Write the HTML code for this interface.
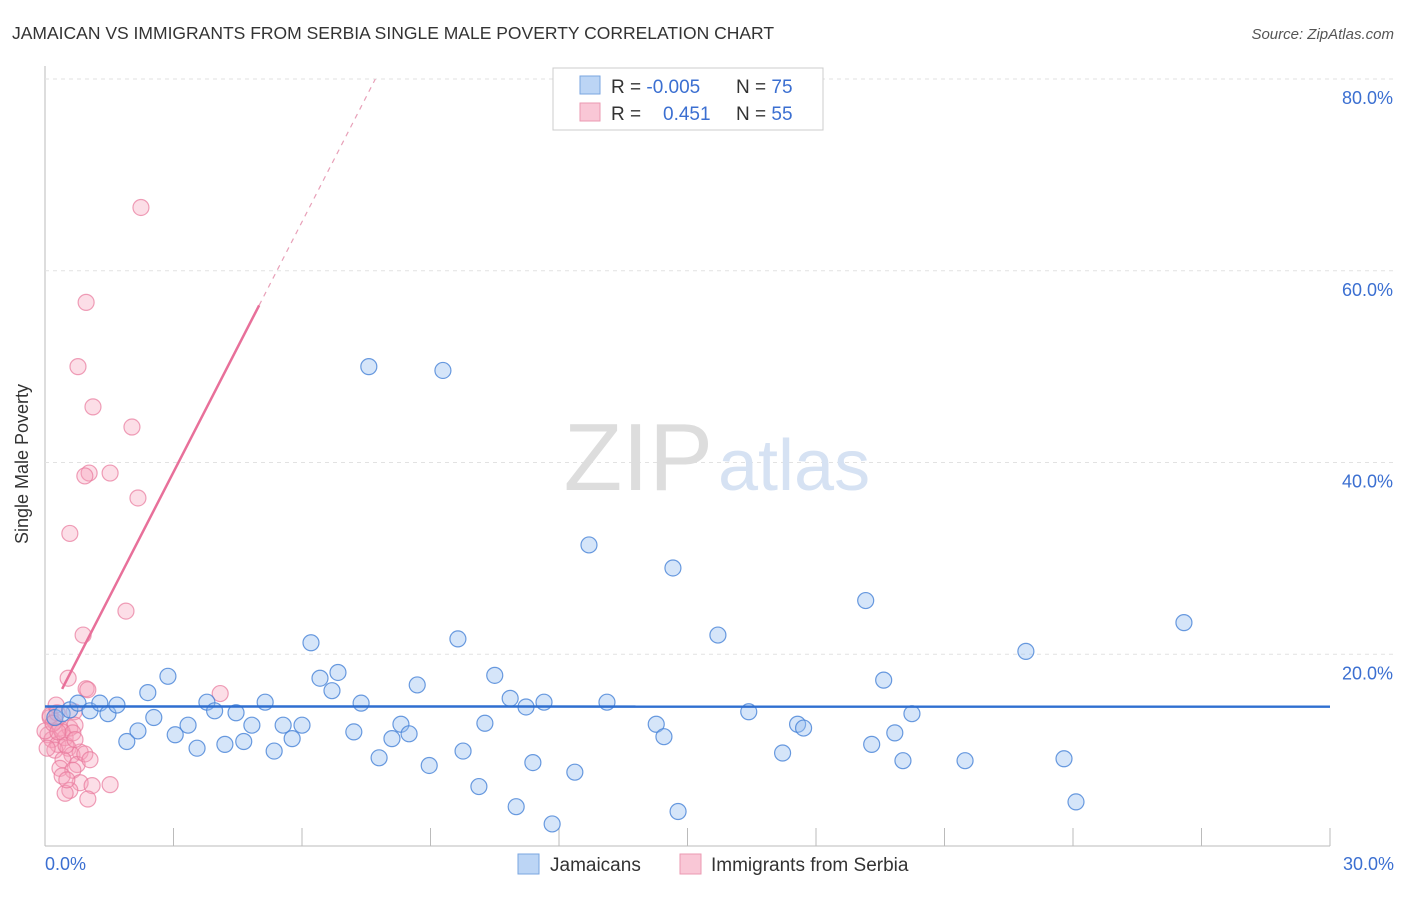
<!DOCTYPE html>
<html><head><meta charset="utf-8"><style>
body{margin:0;background:#fff;font-family:"Liberation Sans",sans-serif;}
svg text{font-family:"Liberation Sans",sans-serif;}
</style></head><body>
<svg width="1406" height="892" xmlns="http://www.w3.org/2000/svg">
<text x="12" y="39" font-size="17.5" fill="#333">JAMAICAN VS IMMIGRANTS FROM SERBIA SINGLE MALE POVERTY CORRELATION CHART</text>
<text x="1394" y="39" font-size="15" fill="#555" font-style="italic" text-anchor="end">Source: ZipAtlas.com</text>
<g id="grid"></g>
<text x="713" y="490" font-size="96" fill="#ddd" text-anchor="end" font-family="Liberation Serif">ZIP</text>
<text x="718" y="490" font-size="72" fill="#d6e2f3">atlas</text>
<g id="pts"></g>
<g id="lines"></g>
<text x="20" y="456" font-size="18" fill="#333" text-anchor="middle" transform="rotate(-90 28 456)">Single Male Poverty</text>
<g>
<rect x="553" y="68" width="270" height="62" fill="#fff" stroke="#ccc"/>
<rect x="580" y="76" width="20" height="18" fill="#bcd5f5" stroke="#7aa6e0"/>
<rect x="580" y="103" width="20" height="18" fill="#f9c7d6" stroke="#eb9ab2"/>
<text x="611" y="93" font-size="19" fill="#333">R = <tspan fill="#3b6fd1">-0.005</tspan></text>
<text x="736" y="93" font-size="19" fill="#333">N = <tspan fill="#3b6fd1">75</tspan></text>
<text x="611" y="120" font-size="19" fill="#333">R = <tspan fill="#3b6fd1" x="663">0.451</tspan></text>
<text x="736" y="120" font-size="19" fill="#333">N = <tspan fill="#3b6fd1">55</tspan></text>
</g>
<g>
<rect x="518" y="854" width="21" height="20" fill="#bcd5f5" stroke="#7aa6e0"/>
<text x="550" y="871" font-size="19" fill="#333">Jamaicans</text>
<rect x="680" y="854" width="21" height="20" fill="#f9c7d6" stroke="#eb9ab2"/>
<text x="711" y="871" font-size="19" fill="#333">Immigrants from Serbia</text>
</g>
</svg>
<script>
const yTicks=[20,40,60,80];
const xTickLabels=["0.0%","30.0%"];
const blueX=[0.23,0.4,0.58,0.77,1.05,1.28,1.47,1.68,1.91,2.17,2.4,2.54,2.87,3.04,3.34,3.55,3.78,3.96,4.2,4.46,4.64,4.83,5.14,5.35,5.56,5.77,6.0,6.21,6.42,6.7,6.84,7.21,7.38,7.56,7.8,8.1,8.31,8.5,8.69,8.97,9.29,9.64,9.76,10.13,10.27,10.5,10.86,11.0,11.23,11.39,11.65,11.84,12.37,12.7,13.12,14.27,14.45,14.66,14.78,15.71,16.43,17.22,17.57,17.71,19.16,19.3,19.58,19.84,20.03,20.24,21.48,22.9,23.79,24.07,26.59];
const blueY=[13.4,13.8,14.2,14.9,14.1,14.9,13.8,14.7,10.9,12.0,16.0,13.4,17.7,11.6,12.6,10.2,15.0,14.1,10.6,13.9,10.9,12.6,15.0,9.9,12.6,11.2,12.6,21.2,17.5,16.2,18.1,11.9,14.9,50.0,9.2,11.2,12.7,11.7,16.8,8.4,49.6,21.6,9.9,6.2,12.8,17.8,15.4,4.1,14.5,8.7,15.0,2.3,7.7,31.4,15.0,12.7,11.4,29.0,3.6,22.0,14.0,9.7,12.7,12.3,25.6,10.6,17.3,11.8,8.9,13.8,8.9,20.3,9.1,4.6,23.3];
const pinkX=[2.24,0.96,0.77,1.12,2.03,1.03,1.52,0.93,2.17,0.58,1.89,0.89,0.54,0.96,4.09,1.0,0.68,0.12,0.23,0.35,0.07,0.16,0.30,0.47,0.58,0.70,0.40,0.54,0.23,0.82,0.63,0.42,0.75,0.35,0.65,0.82,1.1,1.52,0.58,0.47,1.0,0.12,0.28,0,0.49,0.65,0.19,0.05,0.93,0.40,0.70,0.30,1.05,0.51,0.26];
const pinkY=[66.6,56.7,50.0,45.8,43.7,38.9,38.9,38.6,36.3,32.6,24.5,22.0,17.5,16.4,15.9,16.3,14.0,13.4,13.0,12.3,11.6,11.1,10.6,11.3,12.3,12.6,11.9,10.2,10.0,9.8,9.5,9.0,8.5,8.1,7.9,6.6,6.3,6.4,5.8,5.5,4.9,13.6,13.9,12.0,10.5,11.8,12.8,10.2,9.6,7.3,11.1,11.9,9.0,6.9,14.7];
const blueTrend=[14.55,-0.0005]; // intercept, slope per %
const pinkTrend=[12.9,8.7];
const NS="http://www.w3.org/2000/svg";
const X0=45,X1=1330,Y0=846,Y80=79;
const sx=v=>X0+(v/30)*(X1-X0);
const sy=v=>Y0-(v/80)*(Y0-Y80);
function mk(t,a,p){const e=document.createElementNS(NS,t);for(const k in a)e.setAttribute(k,a[k]);p.appendChild(e);return e;}
const grid=document.getElementById('grid');
mk('line',{x1:X0,y1:66,x2:X0,y2:Y0,stroke:'#bbb'},grid);
mk('line',{x1:X0,y1:Y0,x2:X1,y2:Y0,stroke:'#bbb'},grid);
yTicks.forEach(t=>{
 const l=mk('line',{x1:X0,y1:sy(t),x2:1394,y2:sy(t),stroke:'#e2e2e2','stroke-dasharray':'4,4'},grid);
 
 
 const tx=mk('text',{x:1393,y:sy(t)+25,'font-size':18,fill:'#3b6fd1','text-anchor':'end'},grid);
 tx.textContent=t.toFixed(1)+'%';
 
 
});
for(let i=0;i<=10;i++){mk('line',{x1:sx(i*3),y1:828,x2:sx(i*3),y2:Y0,stroke:'#bbb'},grid);}
const xl=mk('text',{x:45,y:870,'font-size':18,fill:'#3b6fd1'},grid);xl.textContent=xTickLabels[0];


const xr=mk('text',{x:1394,y:870,'font-size':18,fill:'#3b6fd1','text-anchor':'end'},grid);xr.textContent=xTickLabels[1];


const pts=document.getElementById('pts');
pinkX.forEach((x,i)=>{const c=mk('circle',{cx:sx(x),cy:sy(pinkY[i]),r:8,fill:'rgba(245,160,185,0.35)',stroke:'rgba(232,120,155,0.7)','stroke-width':1.2},pts);
 
 });
blueX.forEach((x,i)=>{const c=mk('circle',{cx:sx(x),cy:sy(blueY[i]),r:8,fill:'rgba(150,190,240,0.4)',stroke:'rgba(70,130,215,0.8)','stroke-width':1.2},pts);
 
 });
const lines=document.getElementById('lines');
const bl=mk('line',{x1:sx(0),y1:sy(blueTrend[0]),x2:sx(30),y2:sy(blueTrend[0]+30*blueTrend[1]),stroke:'#2f6fd0','stroke-width':2.5},lines);


const pf=x=>pinkTrend[0]+pinkTrend[1]*x;
const pl=mk('line',{x1:sx(0.4),y1:sy(pf(0.4)),x2:sx(5.0),y2:sy(pf(5.0)),stroke:'#e8709a','stroke-width':2.5},lines);


const xe=(80-pinkTrend[0])/pinkTrend[1];
const pd=mk('line',{x1:sx(5.0),y1:sy(pf(5.0)),x2:sx(xe),y2:sy(80),stroke:'#e8a0b8','stroke-width':1.2,'stroke-dasharray':'5,5'},lines);


</script>
</body></html>
